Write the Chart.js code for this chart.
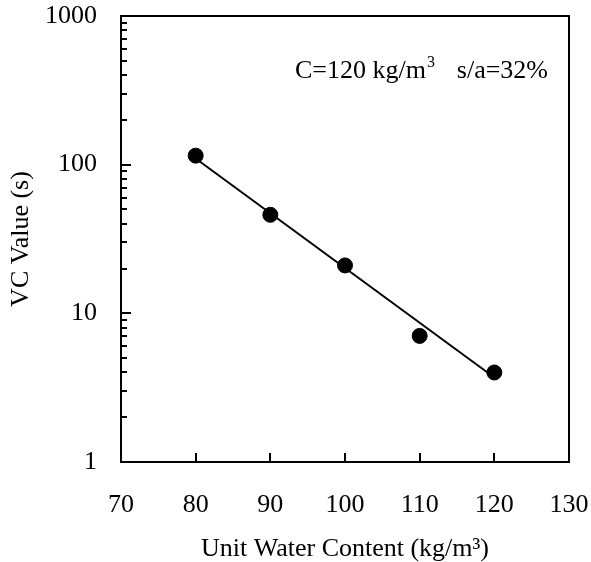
<!DOCTYPE html>
<html>
<head>
<meta charset="utf-8">
<script src="https://cdn.jsdelivr.net/npm/chart.js@4/dist/chart.umd.min.js"></script>
<style>
  html, body { margin: 0; padding: 0; background: #fff; }
  #wrap { width: 591px; height: 562px; }
</style>
</head>
<body>
<div id="wrap"><canvas id="vcChart"></canvas></div>
<script>
// measured points
const waterContent = [80, 90, 100, 110, 120];
const vcValues = [115, 46, 21, 7.05, 4.0];

// fitted line (end points)
const fitX = [80, 120];
const fitY = [110, 3.7];

// log axis ticks, labelled only at the decades
const yTicks = [1, 2, 3, 4, 5, 6, 7, 8, 9,
                10, 20, 30, 40, 50, 60, 70, 80, 90,
                100, 200, 300, 400, 500, 600, 700, 800, 900, 1000];
const yLabels = [1, 10, 100, 1000];
const xTickMarks = [80, 90, 100, 110, 120];

const serif = "'Liberation Serif', 'Times New Roman', serif";

// frame, inward ticks and the note in the top right
const framePlugin = {
    id: 'frame',
    afterDatasetsDraw(chart) {
        const { ctx, chartArea: a, scales } = chart;
        ctx.save();
        ctx.strokeStyle = '#000';
        ctx.lineWidth = 2;
        ctx.strokeRect(a.left, a.top, a.right - a.left, a.bottom - a.top);

        ctx.beginPath();
        yTicks.forEach(v => {
            const y = Math.round(scales.y.getPixelForValue(v));
            const len = yLabels.includes(v) ? 10 : 6;
            ctx.moveTo(a.left, y);
            ctx.lineTo(a.left + len, y);
        });
        xTickMarks.forEach(v => {
            const x = Math.round(scales.x.getPixelForValue(v));
            ctx.moveTo(x, a.bottom);
            ctx.lineTo(x, a.bottom - 9);
        });
        ctx.stroke();

        // C=120 kg/m3   s/a=32%
        ctx.fillStyle = '#000';
        ctx.textBaseline = 'alphabetic';
        ctx.font = '26px ' + serif;
        let x = a.left + 174;
        const y = a.top + 62;
        const part1 = 'C=120 kg/m';
        ctx.fillText(part1, x, y);
        x += ctx.measureText(part1).width;
        ctx.font = '16px ' + serif;
        ctx.fillText('3', x + 1, y - 11);
        ctx.font = '26px ' + serif;
        ctx.textAlign = 'right';
        ctx.fillText('s/a=32%', a.left + 427, y);
        ctx.restore();
    }
};

const ctx = document.getElementById('vcChart').getContext('2d');
new Chart(ctx, {
    type: 'scatter',
    data: {
        datasets: [{
            label: 'VC',
            data: waterContent.map((w, i) => ({ x: w, y: vcValues[i] })),
            backgroundColor: '#000',
            borderColor: '#000',
            pointRadius: 7.5,
            pointHoverRadius: 7.5
        }, {
            type: 'line',
            label: 'fit',
            data: fitX.map((w, i) => ({ x: w, y: fitY[i] })),
            borderColor: '#000',
            borderWidth: 2,
            pointRadius: 0,
            fill: false
        }]
    },
    options: {
        responsive: true,
        maintainAspectRatio: false,
        animation: false,
        layout: {
            padding: { left: 0, top: 16, right: 22, bottom: 0 }
        },
        plugins: {
            legend: { display: false },
            tooltip: { enabled: false }
        },
        scales: {
            x: {
                type: 'linear',
                min: 70,
                max: 130,
                border: { display: false },
                grid: { display: false, drawTicks: false },
                ticks: {
                    stepSize: 10,
                    color: '#000',
                    padding: 28,
                    maxRotation: 0,
                    font: { family: serif, size: 26 }
                },
                title: {
                    display: true,
                    text: 'Unit Water Content (kg/m³)',
                    color: '#000',
                    padding: { top: 0, bottom: 0 },
                    font: { family: serif, size: 26, lineHeight: 1.0 }
                },
                afterFit(scale) {
                    scale.height = 100;
                    scale.paddingLeft = 0;
                    scale.paddingRight = 0;
                }
            },
            y: {
                type: 'logarithmic',
                min: 1,
                max: 1000,
                border: { display: false },
                grid: { display: false, drawTicks: false },
                afterBuildTicks(scale) {
                    scale.ticks = yTicks.map(v => ({ value: v }));
                },
                ticks: {
                    color: '#000',
                    padding: 24,
                    autoSkip: false,
                    font: { family: serif, size: 26 },
                    callback: v => yLabels.includes(v) ? String(v) : ''
                },
                title: {
                    display: true,
                    text: 'VC Value (s)',
                    color: '#000',
                    padding: { top: 6, bottom: 0 },
                    font: { family: serif, size: 26, lineHeight: 1.2 }
                },
                afterFit(scale) {
                    scale.width = 121;
                    scale.paddingTop = 0;
                    scale.paddingBottom = 0;
                }
            }
        }
    },
    plugins: [framePlugin]
});
</script>
</body>
</html>
